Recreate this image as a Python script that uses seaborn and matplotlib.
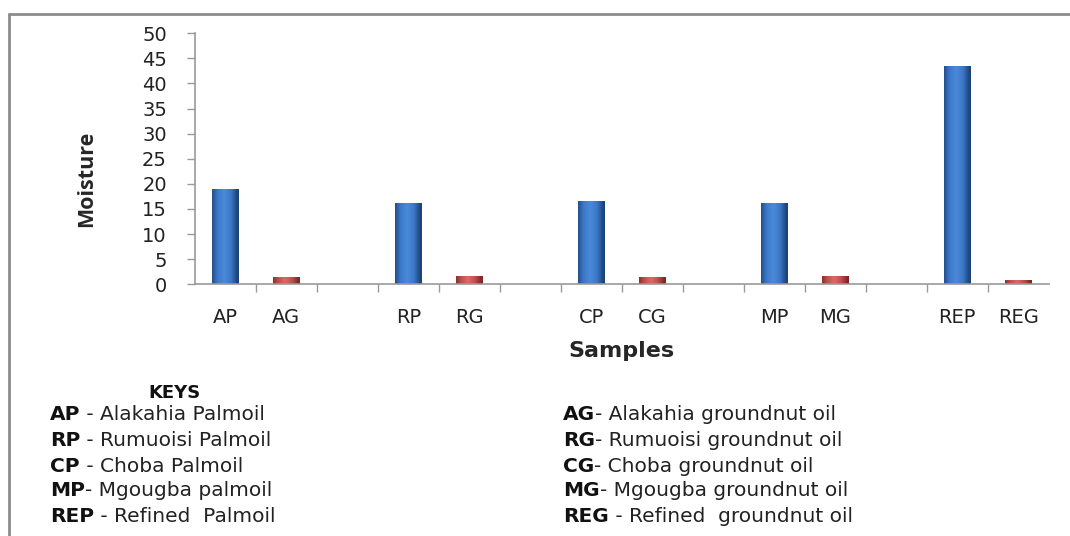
import numpy as np
import pandas as pd
import matplotlib
matplotlib.use("Agg")
import matplotlib.pyplot as plt
from matplotlib.colors import LinearSegmentedColormap
from matplotlib.lines import Line2D
import seaborn as sns

# Moisture content of each oil sample
samples = ["AP", "AG", "RP", "RG", "CP", "CG", "MP", "MG", "REP", "REG"]
moisture = [18.9, 1.4, 16.1, 1.7, 16.6, 1.4, 16.2, 1.6, 43.5, 0.8]
oil_type = ["Palm", "Groundnut"] * 5

# Axis order with an empty slot after each location pair
slot_order = ["AP", "AG", "_1", "RP", "RG", "_2", "CP", "CG", "_3",
              "MP", "MG", "_4", "REP", "REG"]

palm_keys = [("AP", " - Alakahia Palmoil"), ("RP", " - Rumuoisi Palmoil"),
             ("CP", " - Choba Palmoil"), ("MP", "- Mgougba palmoil"),
             ("REP", " - Refined  Palmoil")]
gnut_keys = [("AG", "- Alakahia groundnut oil"), ("RG", "- Rumuoisi groundnut oil"),
             ("CG", "- Choba groundnut oil"), ("MG", "- Mgougba groundnut oil"),
             ("REG", " - Refined  groundnut oil")]

df = pd.DataFrame({"sample": samples, "moisture": moisture, "type": oil_type})

sns.set_theme(style="white")
plt.rcParams["font.family"] = ["DejaVu Sans"]

fig = plt.figure(figsize=(10.70, 5.36), dpi=100)
ax = fig.add_axes([0.182, 0.4696, 0.798, 0.4683])

palette = {"Palm": "#3a74c2", "Groundnut": "#c0504d"}
sns.barplot(data=df, x="sample", y="moisture", hue="type", order=slot_order,
            palette=palette, dodge=False, width=0.43, legend=False, ax=ax,
            edgecolor="none")

# Shade each bar with a cylinder-like horizontal gradient
grad = np.linspace(0, 1, 64)
grad = 1 - np.abs(grad - 0.45) * 2
grad = np.clip(grad, 0, 1)[None, :]
cmaps = {
    "Palm": LinearSegmentedColormap.from_list("pb", ["#1d4479", "#3b78c8", "#4a8ad8"]),
    "Groundnut": LinearSegmentedColormap.from_list("gr", ["#7e2725", "#c0504d", "#d96a66"]),
}
for patch in ax.patches:
    h = patch.get_height()
    if h <= 0:
        continue
    x0 = patch.get_x()
    w = patch.get_width()
    kind = "Palm" if h > 5 else "Groundnut"
    im = ax.imshow(grad, extent=[x0, x0 + w, 0, h], aspect="auto",
                   cmap=cmaps[kind], zorder=patch.get_zorder() + 0.1,
                   interpolation="bicubic")
    im.set_clip_path(patch)

ax.set_xlim(-0.5, len(slot_order) - 0.5)
ax.set_ylim(0, 50)
ax.set_yticks(np.arange(0, 51, 5))
ax.set_xticks(range(len(slot_order)))
ax.set_xticklabels([s if not s.startswith("_") else "" for s in slot_order])
ax.set_xticks(np.arange(0.5, len(slot_order) - 0.5, 1), minor=True)

ax.tick_params(axis="x", which="major", length=0, pad=17, labelsize=14,
               colors="#222222")
ax.tick_params(axis="x", which="minor", length=6, width=1, color="#999999",
               direction="out", bottom=True)
ax.tick_params(axis="y", length=6, width=1, color="#999999", direction="out",
               left=True, labelsize=14, labelcolor="#222222", pad=14)

for side in ("top", "right"):
    ax.spines[side].set_visible(False)
for side in ("left", "bottom"):
    ax.spines[side].set_color("#999999")
    ax.spines[side].set_linewidth(1.2)

ax.set_xlabel("Samples", fontsize=16, fontweight="bold", family="DejaVu Sans",
              labelpad=10)
ax.set_ylabel("Moisture", fontsize=15.5, fontweight="bold", family="Open Sans")
ax.yaxis.set_label_coords(-0.114, 0.42)

# Outer frame (top and left edges)
fig.add_artist(Line2D([9 / 1070, 1.0], [1 - 13.5 / 536] * 2, color="#8c8c8c",
                      lw=2, transform=fig.transFigure))
fig.add_artist(Line2D([9 / 1070] * 2, [0, 1 - 13.5 / 536], color="#8c8c8c",
                      lw=2, transform=fig.transFigure))

# Key for the sample abbreviations
fig.text(175 / 1070, 1 - 393 / 536, "KEYS", ha="center", va="center",
         fontsize=13, fontweight="bold", color="#111111")
row_y = [415, 440, 466, 491, 517]
for col_x, keys in ((50, palm_keys), (563, gnut_keys)):
    for y, (abbr, desc) in zip(row_y, keys):
        t = fig.text(col_x / 1070, 1 - y / 536, abbr, ha="left", va="center",
                     fontsize=14.5, fontweight="bold", color="#111111")
        ax.annotate(desc, xy=(1, 0), xycoords=t, xytext=(0, 0),
                    textcoords="offset points", ha="left", va="bottom",
                    fontsize=14.5, color="#222222", annotation_clip=False)

fig.savefig("out.png", dpi=100, facecolor="white")
